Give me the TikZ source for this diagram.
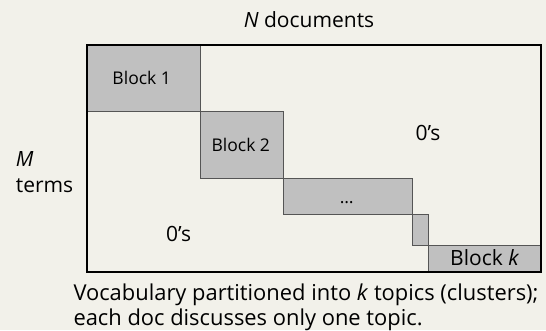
\documentclass[tikz,border=0pt]{standalone}
\usepackage{fontspec}
\setmainfont{Open Sans}
\definecolor{bg}{HTML}{F2F1EA}
\definecolor{blockgray}{HTML}{C0C0C0}
\definecolor{blockedge}{HTML}{555555}
\begin{document}
\begin{tikzpicture}[x=1pt,y=-1pt,
  block/.style={draw=blockedge,fill=blockgray,line width=0.9pt,inner sep=0pt,anchor=north west},
  lbl/.style={inner sep=0pt,font=\fontsize{21}{25}\selectfont},
  blbl/.style={inner sep=0pt,anchor=base,font=\fontsize{17.5}{21}\selectfont},
  captext/.style={inner sep=0pt,anchor=base west,font=\fontsize{21.9}{25}\selectfont},
  outer/.style={draw=black,line width=2pt}]
\fill[bg] (0,0) rectangle (546,330);
\useasboundingbox (0,0) rectangle (546,330);
\node[block,minimum width=114pt,minimum height=67pt] (b1) at (86,43.5) {};
\node[block,minimum width=82.5pt,minimum height=67.5pt] (b2) at (200,110.5) {};
\node[block,minimum width=129pt,minimum height=36pt] (b3) at (282.5,178) {};
\node[block,minimum width=16.5pt,minimum height=31pt] (b4) at (411.5,214) {};
\node[block,minimum width=112pt,minimum height=26pt] (bk) at (428,245) {};
\node[outer,inner sep=0pt,minimum width=454pt,minimum height=227.5pt,anchor=north west] (m) at (86,43.5) {};
\node[blbl] (t1) at (141.7,84) {Block 1};
\node[blbl] (t2) at (240.8,151) {Block 2};
\node[blbl] (t3) at (346.7,203.7) {\dots};
\node[lbl,anchor=base] (tk) at (484.7,265) {Block \textit{k}};
\node[lbl,anchor=base] (ndoc) at (309,27) {\textit{N} documents};
\node[lbl,anchor=base west] (mm) at (15.7,166.7) {\textit{M}};
\node[lbl,anchor=base west] (terms) at (15.7,192.3) {terms};
\node[lbl,anchor=base] (z1) at (428,140.5) {0’s};
\node[lbl,anchor=base] (z2) at (178.6,241.5) {0’s};
\node[captext] (cap1) at (73.3,300.7) {Vocabulary partitioned into \textit{k} topics (clusters);};
\node[captext] (cap2) at (73.3,325.7) {each doc discusses only one topic.};
\end{tikzpicture}
\end{document}
